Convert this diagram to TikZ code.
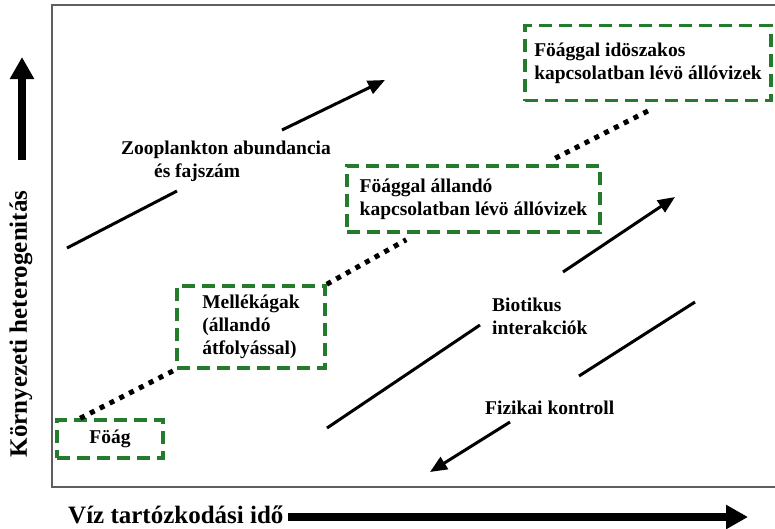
\documentclass[tikz,border=0pt]{standalone}
\usepackage{fontspec}
\setmainfont{Liberation Serif}
\usetikzlibrary{arrows.meta}
\definecolor{boxgreen}{RGB}{38,122,46}
\definecolor{framegray}{RGB}{95,95,95}
\begin{document}
\begin{tikzpicture}[x=1pt,y=-1pt,
  lbl/.style={font=\bfseries\fontsize{19.5}{23}\selectfont, inner sep=0pt, align=left},
  axlbl/.style={font=\bfseries\fontsize{25}{29}\selectfont, inner sep=0pt},
  gbox/.style={draw=boxgreen, line width=3.5pt, dash pattern=on 13pt off 7pt, inner sep=0pt, align=left, font=\bfseries\fontsize{19.5}{23}\selectfont},
  dotline/.style={line width=5pt, dash pattern=on 5pt off 6pt},
  thinline/.style={line width=3pt},
  thinarrow/.style={line width=3pt, -{Triangle[length=17pt,width=14pt]}},
  axarrow/.style={line width=8pt, -{Triangle[length=22pt,width=23pt]}},
  frameline/.style={draw=framegray, line width=1.5pt},
]
\useasboundingbox (0,0) rectangle (775,528);
\fill[white] (0,0) rectangle (775,528);

% frame
\draw[frameline] (775,5) -- (52,5) -- (52,487) -- (775,487);

% axis labels and arrows
\node[axlbl, rotate=90] (ylab) at (21,324) {Környezeti heterogenitás};
\coordinate (ya) at (22,160);
\coordinate (yb) at (22,57);
\draw[axarrow] (ya) -- (yb);
\node[axlbl, anchor=base west] (xlab) at (68,523) {Víz tartózkodási idő};
\coordinate (xa) at (288,517);
\coordinate (xb) at (748,517);
\draw[axarrow] (xa) -- (xb);

% boxes
\node[gbox, minimum width=106pt, minimum height=38pt, align=center] (foag) at (110,439) {Föág};
\node[gbox, minimum width=148pt, minimum height=82pt] (mell) at (251,327) {Mellékágak\\(állandó\\átfolyással)};
\node[gbox, minimum width=253pt, minimum height=66pt] (alland) at (473.5,199) {Föággal állandó\\kapcsolatban lévö állóvizek};
\node[gbox, minimum width=246pt, minimum height=75pt] (idosz) at (648,63) {Föággal idöszakos\\kapcsolatban lévö állóvizek};

% dotted connectors
\draw[dotline] ([xshift=25pt]foag.north west) -- (mell.south west);
\draw[dotline] (mell.north east) -- ([xshift=61pt,yshift=-6pt]alland.south west);
\draw[dotline] ([xshift=210pt,yshift=6pt]alland.north west) -- ([xshift=128pt,yshift=-7pt]idosz.south west);

% zooplankton
\node[lbl] (zoo) at (226,161) {Zooplankton abundancia\\\hspace*{33pt}és fajszám};
\coordinate (z1) at (67,248);
\coordinate (z2) at (177,191);
\coordinate (z3) at (282,130);
\coordinate (z4) at (385,80);
\draw[thinline] (z1) -- (z2);
\draw[thinarrow] (z3) -- (z4);

% biotikus
\node[lbl, anchor=west] (bio) at (492,316) {Biotikus\\interakciók};
\coordinate (b1) at (327,428);
\coordinate (b2) at (480,325);
\coordinate (b3) at (563,272);
\coordinate (b4) at (675,197);
\draw[thinline] (b1) -- (b2);
\draw[thinarrow] (b3) -- (b4);

% fizikai
\node[lbl, anchor=west] (fiz) at (485,408) {Fizikai kontroll};
\coordinate (f1) at (695,302);
\coordinate (f2) at (579,376);
\coordinate (f3) at (510,422);
\coordinate (f4) at (430,472);
\draw[thinline] (f1) -- (f2);
\draw[thinarrow] (f3) -- (f4);
\end{tikzpicture}
\end{document}
